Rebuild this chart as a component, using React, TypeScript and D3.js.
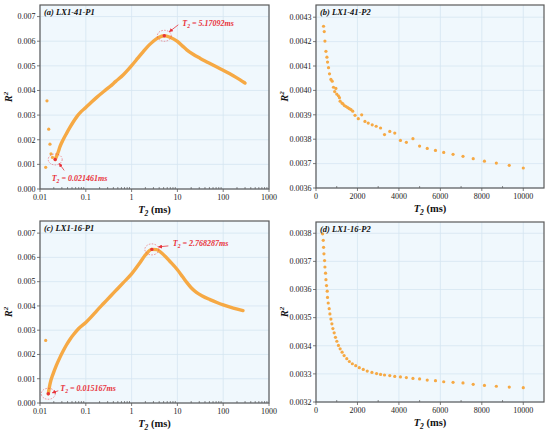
import React from "react";
import * as d3 from "d3";

// ---------- data (T2 in ms, R^2) ----------
const aScatterT = [0.0133, 0.0142, 0.0155, 0.0165, 0.0174, 0.0187];
const aScatterR = [0.00088, 0.00358, 0.00243, 0.00182, 0.00143, 0.00128];
const aCurveT = [0.021461, 0.025, 0.0273, 0.032, 0.038, 0.045, 0.0535, 0.065, 0.08, 0.1, 0.13, 0.173, 0.25, 0.337, 0.45, 0.66, 0.85, 1.0, 1.35, 1.8, 2.4, 2.98, 3.8, 5.17092, 6.9, 10, 13, 16, 22, 31, 45, 61, 100, 166, 230, 300];
const aCurveR = [0.0012, 0.0015, 0.00172, 0.002, 0.00226, 0.0025, 0.00273, 0.00296, 0.00315, 0.00331, 0.00351, 0.00372, 0.00397, 0.00416, 0.00437, 0.00464, 0.00486, 0.00501, 0.0053, 0.00558, 0.00584, 0.006, 0.00614, 0.00622, 0.00616, 0.00599, 0.0058, 0.00565, 0.00547, 0.00531, 0.00515, 0.00502, 0.00482, 0.0046, 0.00444, 0.0043];

const cScatterT = [0.0133];
const cScatterR = [0.00258];
const cCurveT = [0.015167, 0.0165, 0.0195, 0.023, 0.0273, 0.032, 0.038, 0.045, 0.0535, 0.07, 0.1, 0.13, 0.173, 0.25, 0.337, 0.5, 0.66, 1.0, 1.52, 2.0, 2.768287, 3.5, 4.17, 6.9, 10, 13, 16, 20, 26, 35, 51.5, 75, 100, 166, 270];
const cCurveR = [0.00038, 0.00078, 0.00122, 0.00157, 0.00188, 0.00214, 0.0024, 0.00262, 0.00281, 0.00307, 0.00332, 0.00354, 0.0038, 0.00412, 0.00438, 0.00472, 0.00496, 0.00532, 0.00578, 0.0061, 0.00633, 0.00632, 0.00624, 0.00583, 0.00549, 0.0052, 0.00497, 0.00475, 0.00456, 0.00441, 0.00426, 0.00413, 0.00404, 0.00391, 0.00381];

const bT = [364, 398, 431, 479, 527, 556, 604, 652, 719, 781, 843, 900, 960, 1000, 1080, 1131, 1164, 1250, 1300, 1370, 1452, 1533, 1610, 1691, 1773, 1883, 2041, 2204, 2362, 2520, 2712, 2904, 3115, 3306, 3560, 3800, 4073, 4360, 4677, 4998, 5367, 5764, 6162, 6612, 7092, 7585, 8127, 8701, 9324, 10000];
const bR = [0.004263, 0.004241, 0.004202, 0.00416, 0.004136, 0.004116, 0.004093, 0.004068, 0.004045, 0.004038, 0.004013, 0.003995, 0.004008, 0.003985, 0.003978, 0.00397, 0.003956, 0.003948, 0.003945, 0.003938, 0.003934, 0.003929, 0.003925, 0.003921, 0.003915, 0.003898, 0.003884, 0.0039, 0.003873, 0.003866, 0.003859, 0.003853, 0.003846, 0.003819, 0.003832, 0.003825, 0.003795, 0.003787, 0.003802, 0.003772, 0.003762, 0.003754, 0.003746, 0.003738, 0.00373, 0.00372, 0.00371, 0.003702, 0.003693, 0.003682];

const dT = [318, 350, 366, 383, 414, 431, 460, 479, 508, 541, 556, 589, 637, 671, 719, 767, 815, 877, 939, 1006, 1083, 1164, 1260, 1356, 1485, 1610, 1754, 1917, 2089, 2281, 2472, 2698, 2923, 3115, 3306, 3560, 3800, 4073, 4360, 4677, 4998, 5367, 5764, 6162, 6612, 7092, 7585, 8127, 8701, 9324, 10000];
const dR = [0.003798, 0.003775, 0.00375, 0.003727, 0.003703, 0.00368, 0.003658, 0.003635, 0.003614, 0.003594, 0.003572, 0.003552, 0.003532, 0.003513, 0.003495, 0.003478, 0.003461, 0.003446, 0.00343, 0.003416, 0.003401, 0.003389, 0.003377, 0.003365, 0.003354, 0.003344, 0.003336, 0.003329, 0.003322, 0.003316, 0.00331, 0.003305, 0.003301, 0.003298, 0.003296, 0.003294, 0.003291, 0.003289, 0.003287, 0.003284, 0.003282, 0.003278, 0.003276, 0.003272, 0.00327, 0.003268, 0.003263, 0.003259, 0.003256, 0.003253, 0.003251];

const logTicks = [0.01, 0.1, 1, 10, 100, 1000];
const logTickLabels = ["0.01", "0.1", "1", "10", "100", "1000"];
const linTicks = [0, 2000, 4000, 6000, 8000, 10000];
const yTicksAC = [0, 0.001, 0.002, 0.003, 0.004, 0.005, 0.006, 0.007];
const yTicksB = [0.0036, 0.0037, 0.0038, 0.0039, 0.004, 0.0041, 0.0042, 0.0043];
const yTicksD = [0.0032, 0.0033, 0.0034, 0.0035, 0.0036, 0.0037, 0.0038];

const ORANGE = "#f6a944";
const RED = "#e8323a";
const GRID = "#d5e6f1";
const BG = "#f0f8fd";
const FRAME = "#5a5a5a";
const FONT = "'Liberation Serif', 'Times New Roman', serif";

type Box = { left: number; right: number; top: number; bottom: number };
type Ann = { t: number; r: number; label: string; tx: number; ty: number; ax1: number; ay1: number; ax2: number; ay2: number };

function Sub2({ base, rest, size }: { base: string; rest: string; size: number }) {
  return (
    <>
      <tspan>{base}</tspan>
      <tspan fontSize={size * 0.7} dy={2}>2</tspan>
      <tspan dy={-2}>{rest}</tspan>
    </>
  );
}

function Panel(props: {
  id: string;
  box: Box;
  log: boolean;
  yDomain: [number, number];
  yTicks: number[];
  yDigits: number;
  title: string;
  scatterT?: number[];
  scatterR?: number[];
  curveT?: number[];
  curveR?: number[];
  pointsT?: number[];
  pointsR?: number[];
  anns?: Ann[];
}) {
  const { box, log } = props;
  const x: any = log
    ? d3.scaleLog().domain([0.01, 1000]).range([box.left, box.right])
    : d3.scaleLinear().domain([0, 11000]).range([box.left, box.right]);
  const y = d3.scaleLinear().domain(props.yDomain).range([box.bottom, box.top]);
  const xt = log ? logTicks : linTicks;
  const xl = log ? logTickLabels : linTicks.map((v) => String(v));
  const minor: number[] = [];
  if (log) {
    for (let e = -2; e < 3; e++) for (let m = 2; m <= 9; m++) minor.push(m * Math.pow(10, e));
  } else {
    for (let v = 1000; v < 11000; v += 2000) minor.push(v);
  }
  const fmt = d3.format(`.${props.yDigits}f`);
  let curvePath = "";
  if (props.curveT && props.curveR) {
    const pts: [number, number][] = props.curveT.map((t, i) => [x(t), y(props.curveR![i])]);
    curvePath = d3.line().curve(d3.curveMonotoneX)(pts) || "";
  }
  const cx = (box.left + box.right) / 2;
  return (
    <g>
      <defs>
        <clipPath id={`clip-${props.id}`}>
          <rect x={box.left} y={box.top} width={box.right - box.left} height={box.bottom - box.top} />
        </clipPath>
        <marker id={`arr-${props.id}`} viewBox="0 0 10 10" refX="9" refY="5" markerWidth="5" markerHeight="5" orient="auto">
          <path d="M0,0 L10,5 L0,10 z" fill={RED} />
        </marker>
      </defs>
      <rect x={box.left} y={box.top} width={box.right - box.left} height={box.bottom - box.top} fill={BG} />
      {xt.map((v) => (
        <line key={"gx" + v} x1={x(v)} x2={x(v)} y1={box.top} y2={box.bottom} stroke={GRID} strokeWidth={0.8} />
      ))}
      {props.yTicks.map((v) => (
        <line key={"gy" + v} x1={box.left} x2={box.right} y1={y(v)} y2={y(v)} stroke={GRID} strokeWidth={0.8} />
      ))}
      <g clipPath={`url(#clip-${props.id})`}>
        {curvePath && (
          <path d={curvePath} fill="none" stroke={ORANGE} strokeWidth={3.4} strokeLinecap="round" strokeLinejoin="round" />
        )}
        {props.scatterT &&
          props.scatterT.map((t, i) => <circle key={"s" + i} cx={x(t)} cy={y(props.scatterR![i])} r={1.6} fill={ORANGE} />)}
        {props.pointsT &&
          props.pointsT.map((t, i) => <circle key={"p" + i} cx={x(t)} cy={y(props.pointsR![i])} r={1.6} fill={ORANGE} />)}
      </g>
      {props.anns &&
        props.anns.map((a, i) => {
          const px = x(a.t);
          const py = y(a.r);
          return (
            <g key={"a" + i}>
              <ellipse cx={px} cy={py} rx={7} ry={5.5} fill="none" stroke={RED} strokeOpacity={0.7} strokeWidth={0.7} strokeDasharray="1.6,1.3" />
              <circle cx={px} cy={py} r={1.7} fill={RED} />
              <line x1={px + a.ax1} y1={py + a.ay1} x2={px + a.ax2} y2={py + a.ay2} stroke={RED} strokeWidth={0.8} markerEnd={`url(#arr-${props.id})`} />
              <text x={px + a.tx} y={py + a.ty} fill={RED} fontFamily={FONT} fontStyle="italic" fontWeight="bold" fontSize={8}>
                <Sub2 base="T" rest={` = ${a.label}ms`} size={8} />
              </text>
            </g>
          );
        })}
      {/* frame */}
      <rect x={box.left} y={box.top} width={box.right - box.left} height={box.bottom - box.top} fill="none" stroke={FRAME} strokeWidth={1.2} />
      {/* x ticks */}
      {xt.map((v, i) => (
        <g key={"xt" + v}>
          <line x1={x(v)} x2={x(v)} y1={box.bottom} y2={box.bottom + 3} stroke={FRAME} strokeWidth={0.8} />
          <text x={x(v)} y={box.bottom + 10.5} textAnchor="middle" fontFamily={FONT} fontSize={8} fill="#222">
            {xl[i]}
          </text>
        </g>
      ))}
      {minor.map((v) => (
        <line key={"mx" + v} x1={x(v)} x2={x(v)} y1={box.bottom} y2={box.bottom - 2} stroke={FRAME} strokeWidth={0.7} />
      ))}
      {/* y ticks */}
      {props.yTicks.map((v) => (
        <g key={"yt" + v}>
          <line x1={box.left - 3} x2={box.left} y1={y(v)} y2={y(v)} stroke={FRAME} strokeWidth={0.8} />
          <text x={box.left - 4.5} y={y(v) + 2.8} textAnchor="end" fontFamily={FONT} fontSize={8} fill="#222">
            {fmt(v)}
          </text>
        </g>
      ))}
      <text x={box.left + 4} y={box.top + 10} fontFamily={FONT} fontStyle="italic" fontWeight="bold" fontSize={8.5} fill="#111">
        {props.title}
      </text>
      {/* axis labels */}
      <text x={cx} y={box.bottom + 24} textAnchor="middle" fontFamily={FONT} fontWeight="bold" fontSize={10.5} fill="#111">
        <tspan fontStyle="italic">T</tspan>
        <tspan fontStyle="italic" fontSize={7.5} dy={2.5}>2</tspan>
        <tspan dy={-2.5}> (ms)</tspan>
      </text>
      <text
        transform={`translate(${box.left - 28},${(box.top + box.bottom) / 2}) rotate(-90)`}
        textAnchor="middle"
        fontFamily={FONT}
        fontWeight="bold"
        fontStyle="italic"
        fontSize={10.5}
        fill="#111"
      >
        <tspan>R</tspan>
        <tspan fontSize={7} dy={-4}>2</tspan>
      </text>
    </g>
  );
}

export default function App() {
  return (
    <svg width={550} height={436} style={{ position: "absolute", left: 0, top: 0, background: "#fff" }}>
      <Panel
        id="a"
        box={{ left: 40, right: 269, top: 5, bottom: 189 }}
        log
        yDomain={[0, 0.00747]}
        yTicks={yTicksAC}
        yDigits={3}
        title="(a) LX1-41-P1"
        scatterT={aScatterT}
        scatterR={aScatterR}
        curveT={aCurveT}
        curveR={aCurveR}
        anns={[
          { t: 5.17092, r: 0.00622, label: "5.17092", tx: 18, ty: -10, ax1: 14, ay1: -11, ax2: 5, ay2: -4 },
          { t: 0.021461, r: 0.0012, label: "0.021461", tx: -3.5, ty: 21.5, ax1: 9, ay1: 11, ax2: 4, ay2: 4 },
        ]}
      />
      <Panel
        id="b"
        box={{ left: 316, right: 544, top: 5, bottom: 188 }}
        log={false}
        yDomain={[0.0036, 0.00435]}
        yTicks={yTicksB}
        yDigits={4}
        title="(b) LX1-41-P2"
        pointsT={bT}
        pointsR={bR}
      />
      <Panel
        id="c"
        box={{ left: 40, right: 269, top: 221, bottom: 403 }}
        log
        yDomain={[0, 0.0075]}
        yTicks={yTicksAC}
        yDigits={3}
        title="(c) LX1-16-P1"
        scatterT={cScatterT}
        scatterR={cScatterR}
        curveT={cCurveT}
        curveR={cCurveR}
        anns={[
          { t: 2.768287, r: 0.00633, label: "2.768287", tx: 21, ty: -3, ax1: 16.5, ay1: -3.5, ax2: 6.5, ay2: -2.5 },
          { t: 0.015167, r: 0.00038, label: "0.015167", tx: 12, ty: -2.5, ax1: 10, ay1: -3, ax2: 4, ay2: -1 },
        ]}
      />
      <Panel
        id="d"
        box={{ left: 316, right: 544, top: 222, bottom: 402 }}
        log={false}
        yDomain={[0.0032, 0.00384]}
        yTicks={yTicksD}
        yDigits={4}
        title="(d) LX1-16-P2"
        pointsT={dT}
        pointsR={dR}
      />
    </svg>
  );
}
